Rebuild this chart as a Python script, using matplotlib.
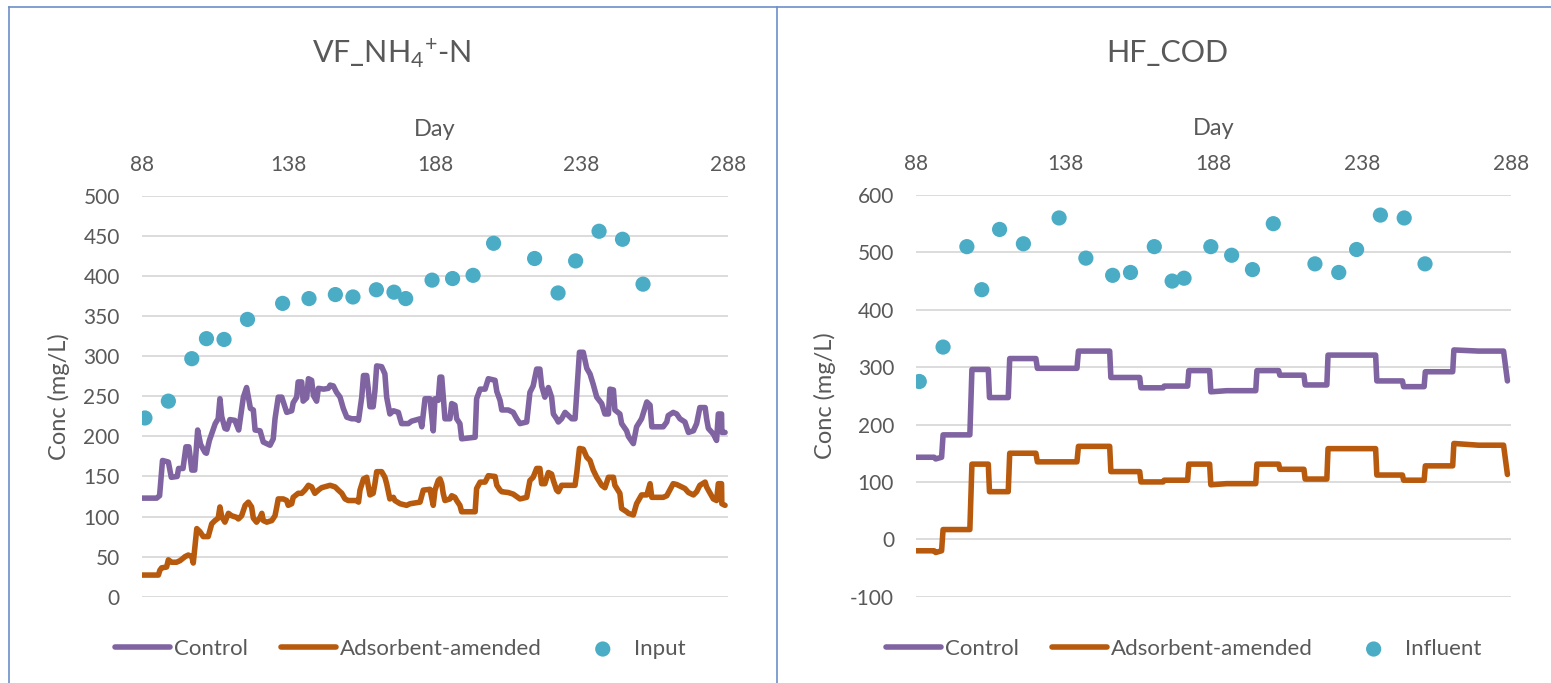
import matplotlib
matplotlib.use("Agg")
import matplotlib.pyplot as plt
from matplotlib.lines import Line2D

plt.rcParams['font.family'] = ['Lato', 'DejaVu Sans']
plt.rcParams['mathtext.fontset'] = 'custom'
plt.rcParams['mathtext.rm'] = 'Lato'
plt.rcParams['mathtext.it'] = 'Lato:italic'
plt.rcParams['axes.unicode_minus'] = False

# --- VF NH4+-N panel ---
vf_control_day = [88, 93, 94, 95, 97, 98, 100, 100.5, 102, 103, 104, 105, 106, 107, 108, 109.5, 110,
                  111, 113, 114, 114.6, 115.2, 116.3, 117, 118, 119.7, 121, 122.6, 123.7, 125, 126,
                  126.6, 128.3, 129.4, 131.7, 132.8, 133.4, 134.5, 135.7, 137.4, 139.1, 139.6, 140.8,
                  141.3, 142.5, 143, 144.2, 144.8, 145.9, 146.5, 147.6, 148.2, 150, 151.6, 152.2,
                  153.3, 154.4, 155.6, 156.7, 157.9, 159.6, 161.3, 161.9, 163, 163.6, 164.7, 165.2,
                  165.8, 166.9, 167.5, 168.1, 169.8, 170.9, 171.5, 172.6, 173.8, 175.5, 176.1, 176.6,
                  178.9, 180, 182.9, 183.5, 184.6, 186.3, 187.4, 188, 189.1, 189.7, 190.3, 190.8,
                  191.4, 193.1, 193.7, 194.8, 195.4, 196.5, 197.1, 201.7, 202.2, 203.4, 205.1, 206.2,
                  208.5, 209.1, 210.2, 210.8, 213, 214.7, 215.9, 217, 219.3, 220.4, 221.5, 222.7,
                  223.8, 224.4, 225.5, 226.7, 227.8, 228.4, 229.5, 230.1, 231.2, 232.4, 234.7, 235.8,
                  236.4, 237.3, 238.6, 239.2, 239.8, 240.9, 242, 243.2, 244.9, 246, 247.2, 247.7,
                  248.9, 249.4, 251.1, 251.7, 253.4, 254, 255.7, 256.8, 258.5, 260.3, 261.4, 262,
                  265.9, 267.1, 267.6, 269.3, 270.5, 271.6, 273.3, 274.5, 276.2, 277.3, 278.4, 280.2,
                  280.7, 281.3, 283, 284.1, 284.7, 285.8, 285.9, 287]
vf_control = [123, 123, 126, 170, 168, 149, 150, 160, 160, 187, 187, 158, 158, 208, 190, 180, 179,
              195, 216, 222, 247, 225, 210, 209, 221, 220, 208, 249, 261, 235, 233,
              208, 207, 193, 189, 197, 222, 249, 249, 230, 232, 242, 249,
              268, 268, 244, 248, 272, 270, 251, 244, 260, 259, 260, 264,
              263, 255, 249, 235, 224, 222, 222, 220, 249, 276, 276, 260,
              237, 237, 257, 288, 287, 278, 249, 228, 232, 230, 222, 216,
              216, 219, 222, 212, 247, 247, 207, 247, 245, 274, 274, 250,
              222, 222, 241, 239, 222, 216, 197, 199, 247, 259, 259, 272,
              270, 256, 245, 233, 233, 230, 222, 216, 218, 255, 263, 284,
              284, 263, 249, 261, 249, 228, 222, 218, 222, 230, 222, 222,
              256, 305, 305, 295, 285, 278, 265, 249, 241, 228, 228, 259,
              258, 233, 228, 216, 207, 200, 191, 212, 222, 243, 239, 212,
              212, 218, 226, 230, 228, 222, 218, 205, 207, 216, 236, 236,
              222, 210, 203, 195, 228, 228, 205, 205]

vf_amended_day = [88, 93.6, 94.1, 94.7, 96.4, 97, 98.1, 99.8, 101, 102.7, 103.8, 105, 105.5, 106.7,
                  107.8, 108.9, 110.6, 111.8, 112.9, 114, 114.6, 115.2, 116.3, 117.5, 118.6, 120.3,
                  120.9, 122, 123.2, 124.3, 125.4, 126, 127.1, 128.3, 128.9, 129.4, 130.6, 132.3,
                  133.4, 134, 134.5, 136.2, 137.4, 137.9, 139.1, 139.6, 141.3, 142.5, 143.6, 144.8,
                  145.9, 147, 148.2, 149.3, 152.2, 153.9, 155, 156.2, 157.3, 158.4, 161.3, 161.9,
                  162.4, 163.6, 164.7, 165.2, 165.8, 166.9, 167.5, 168.1, 169.8, 170.9, 171.5, 172.6,
                  173.8, 174.3, 176.1, 178.3, 179.5, 182.9, 184, 186.3, 187.4, 188, 189.1, 189.7,
                  190.3, 190.8, 191.4, 193.1, 193.7, 194.8, 195.4, 196.5, 197.1, 201.7, 202.2, 203.4,
                  205.1, 206.2, 208.5, 209.1, 210.2, 210.8, 213, 214.7, 217, 219.3, 220.4, 221.5,
                  222.7, 223.8, 224.4, 225.5, 226.7, 227.8, 228.4, 229.5, 230.1, 231.2, 234.7, 235.8,
                  236.4, 237.3, 238.6, 239.8, 240.9, 242, 243.2, 244.9, 246, 247.2, 248.9, 249.4,
                  251.1, 251.7, 253.4, 254, 255.7, 256.8, 258.5, 260.3, 261.4, 262, 265.9, 267.1,
                  269.3, 270.5, 273.3, 274.5, 276.2, 277.3, 278.4, 280.2, 280.7, 281.3, 283, 284.1,
                  284.7, 285.8, 285.9, 287]
vf_amended = [27, 27, 33, 36, 37, 46, 43, 43, 45, 50, 52, 50, 42, 85,
              81, 75, 75, 91, 95, 98, 112, 100, 93, 104, 101, 99,
              97, 101, 114, 118, 112, 98, 93, 99, 104, 95, 93, 95,
              101, 112, 122, 122, 120, 114, 116, 124, 129, 129, 133, 139,
              137, 129, 133, 136, 139, 137, 133, 129, 122, 120, 120, 118,
              133, 147, 149, 139, 127, 129, 141, 156, 156, 149, 141, 122,
              124, 120, 116, 114, 116, 118, 133, 134, 114, 133, 145, 147,
              141, 129, 120, 122, 126, 124, 120, 114, 106, 106, 135, 143,
              143, 151, 150, 139, 133, 131, 130, 128, 122, 124, 145, 149,
              160, 160, 141, 141, 155, 153, 145, 133, 131, 139, 139, 139,
              155, 185, 184, 174, 170, 158, 149, 139, 136, 149, 149, 139,
              129, 110, 106, 104, 102, 116, 127, 127, 141, 124, 124, 126,
              141, 140, 135, 130, 127, 131, 139, 143, 137, 133, 122, 120,
              141, 141, 116, 114]

sample_day = [89, 97, 105, 110, 116, 124, 136, 145, 154, 160, 168, 174, 178, 187, 194, 201, 208,
              222, 230, 236, 244, 252, 259]
vf_input = [223, 244, 297, 322, 321, 346, 366, 372, 377, 374, 383, 380, 372, 395, 397, 401, 441,
            422, 379, 419, 456, 446, 390]

# --- HF COD panel (stepped) ---
hf_step_day = [88, 94, 94.5, 96.5, 97, 106, 106.7, 112.2, 112.6, 118.9, 119.4, 128.2, 128.7, 142,
               142.5, 153, 153.4, 163.1, 163.5, 171, 171.3, 179.2, 179.6, 186.6, 187, 192.3, 202.1,
               202.5, 209.8, 210.2, 218.3, 218.7, 226, 226.4, 242.4, 242.8, 251.4, 251.8, 258.7,
               259.1, 268.3, 268.7, 277, 285.4, 286.7]
hf_control = [143, 143, 140, 143, 182, 182, 296, 296, 247, 247, 315, 315, 298, 298,
              328, 328, 282, 282, 264, 264, 267, 267, 294, 294, 257, 259, 259,
              294, 294, 286, 286, 269, 269, 321, 321, 276, 276, 266, 266,
              292, 292, 330, 328, 328, 276]
hf_amended = [-20, -20, -23, -20, 17, 17, 131, 131, 83, 83, 150, 150, 135, 135,
              162, 162, 118, 118, 100, 100, 103, 103, 131, 131, 95, 97, 97,
              131, 131, 122, 122, 105, 105, 158, 158, 112, 112, 103, 103,
              128, 128, 167, 164, 164, 113]
hf_influent = [275, 335, 510, 435, 540, 515, 560, 490, 460, 465, 510, 450, 455, 510, 495, 470,
               550, 480, 465, 505, 565, 560, 480]

x_ticks = [88, 138, 188, 238, 288]

PURPLE = '#8064a2'
ORANGE = '#b85a0d'
AQUA = '#4bacc6'
TEXT = '#595959'


def draw_panel(ax, title, title_x, c_day, c_val, a_day, a_val, dots, dot_label, ylim, yticks, legend_x):
    ax.plot(c_day, c_val, color=PURPLE, lw=4.0, solid_joinstyle='round', solid_capstyle='round',
            label='Control', zorder=3)
    ax.plot(a_day, a_val, color=ORANGE, lw=4.0, solid_joinstyle='round', solid_capstyle='round',
            label='Adsorbent-amended', zorder=3)
    ax.scatter(sample_day, dots, s=120, color=AQUA, edgecolors='none', label=dot_label, zorder=4)

    ax.set_xlim(88, 288)
    ax.set_ylim(*ylim)
    ax.set_xticks(x_ticks)
    ax.set_yticks(yticks)
    ax.xaxis.tick_top()
    ax.xaxis.set_label_position('top')
    ax.tick_params(length=0, labelsize=15, labelcolor=TEXT)
    ax.tick_params(axis='y', pad=16)
    ax.tick_params(axis='x', pad=15)
    ax.set_xlabel('Day', fontsize=17, color=TEXT, labelpad=14)
    ax.set_ylabel('Conc (mg/L)', fontsize=17, color=TEXT, labelpad=10)
    for s in ax.spines.values():
        s.set_visible(False)
    ax.grid(axis='y', color='#d9d9d9', lw=1.3)
    ax.set_axisbelow(True)

    fig.text(title_x, 0.922, title, ha='center', va='center', fontsize=22, color=TEXT)
    ax.legend(loc='center', bbox_to_anchor=(legend_x, 0.05), bbox_transform=fig.transFigure,
              ncol=3, frameon=False, fontsize=16, labelcolor=TEXT, handlelength=2.5,
              handletextpad=0.15, columnspacing=1.5, scatterpoints=1)


fig = plt.figure(figsize=(15.51, 6.83), dpi=100)
ax1 = fig.add_axes([0.09155, 0.12636, 0.37782, 0.58668])
ax2 = fig.add_axes([0.59078, 0.12636, 0.38362, 0.58814])

draw_panel(ax1, r'VF_NH$_4$$^{+}$-N', 0.2524, vf_control_day, vf_control, vf_amended_day, vf_amended,
           vf_input, 'Input', (0, 500), range(0, 501, 50), 0.258)
draw_panel(ax2, 'HF_COD', 0.7524, hf_step_day, hf_control, hf_step_day, hf_amended,
           hf_influent, 'Influent', (-100, 600), range(-100, 601, 100), 0.763)

# chart area borders
border = '#6d8fc9'
fig.add_artist(Line2D([0.0058, 1], [0.9893, 0.9893], color=border, lw=1.2))
fig.add_artist(Line2D([0.0058, 0.0058], [0, 0.9893], color=border, lw=1.2))
fig.add_artist(Line2D([0.5007, 0.5007], [0, 0.9893], color=border, lw=1.2))

fig.savefig('out.png', dpi=100)
